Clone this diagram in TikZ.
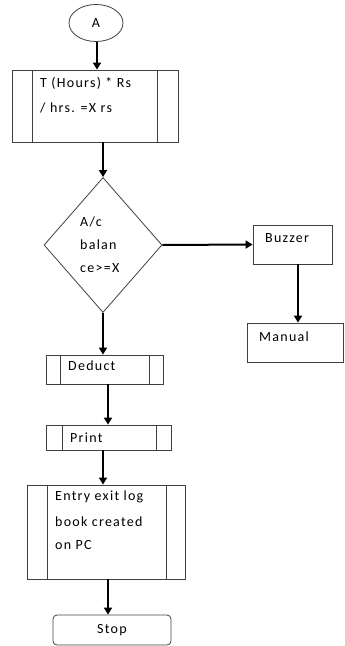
\documentclass[tikz,border=0pt]{standalone}
\usepackage{fontspec}
\setmainfont{Carlito}
\usetikzlibrary{shapes.geometric,arrows.meta,calc}
\newcommand{\lblfont}{\fontsize{14}{16}\selectfont\addfontfeature{LetterSpace=9}}
\tikzset{
  box/.style={draw=black!75, line width=0.8pt, rectangle, inner sep=0pt},
  proc/.style 2 args={box, path picture={
      \draw[black!75, line width=0.8pt]
        ([xshift=#1]path picture bounding box.north west) -- ([xshift=#1]path picture bounding box.south west)
        ([xshift=-#2]path picture bounding box.north east) -- ([xshift=-#2]path picture bounding box.south east);}},
  lbl/.style={anchor=west, inner sep=0pt, font=\lblfont},
  arr/.style={line width=2pt, -{Triangle[length=7pt,width=8pt]}},
}
\begin{document}
\begin{tikzpicture}[x=1pt,y=-1pt]
\useasboundingbox (0,0) rectangle (345,646);
% start
\node[ellipse, draw=black!75, line width=0.8pt, minimum width=54pt, minimum height=37pt, inner sep=0pt,
      font=\fontsize{14}{16}\selectfont] (A) at (96,23) {A};
% calculation box
\node[proc={20pt}{21pt}, minimum width=166pt, minimum height=72pt] (b1) at (95,106) {};
\node[lbl] (t1a) at (40,83) {T (Hours) * Rs};
\node[lbl] (t1b) at (40,108) {/ hrs. =X rs};
% decision
\node[diamond, draw=black!75, line width=0.8pt, minimum width=118pt, minimum height=135pt, inner sep=0pt] (d) at (103,245) {};
\node[lbl] (d1) at (80,222) {A/c};
\node[lbl] (d2) at (80,245) {balan};
\node[lbl] (d3) at (80,268) {ce>=X};
% buzzer / manual
\node[box, minimum width=79pt, minimum height=39pt] (bz) at (292.5,244.5) {};
\node[lbl] (bzt) at (265,238) {Buzzer};
\node[box, minimum width=96pt, minimum height=39pt] (man) at (295,342.5) {};
\node[lbl] (mant) at (259,337) {Manual};
% deduct
\node[proc={14pt}{14pt}, minimum width=117pt, minimum height=29pt] (ded) at (104.5,369.5) {};
\node[lbl] (dedt) at (68,366) {Deduct};
% print
\node[proc={16pt}{15pt}, minimum width=125pt, minimum height=25pt] (pr) at (108.5,437.5) {};
\node[lbl] (prt) at (70,438) {Print};
% entry
\node[proc={20pt}{19pt}, minimum width=158pt, minimum height=94pt] (en) at (106,532) {};
\node[lbl] (en1) at (55,497) {Entry exit log};
\node[lbl] (en2) at (55,522) {book created};
\node[lbl] (en3) at (55,545) {on PC};
% stop
\node[box, rounded corners=4pt, minimum width=118pt, minimum height=30pt, font=\lblfont] (st) at (112,630) {Stop};
% connectors
\coordinate (c1) at (97,0);
\draw[arr] (A.south -| c1) -- (b1.north -| c1);
\draw[arr] (b1.south -| d.north) -- (d.north);
\draw[arr] (d.east) -- (bz.west);
\coordinate (c2) at (298,0);
\draw[arr] (bz.south -| c2) -- (man.north -| c2);
\draw[arr] (d.south) -- (ded.north -| d.south);
\coordinate (c3) at (108,0);
\draw[arr] (ded.south -| c3) -- (pr.north -| c3);
\coordinate (c4) at (103,0);
\draw[arr] (pr.south -| c4) -- (en.north -| c4);
\draw[arr] (en.south -| c3) -- (st.north -| c3);
\end{tikzpicture}
\end{document}
